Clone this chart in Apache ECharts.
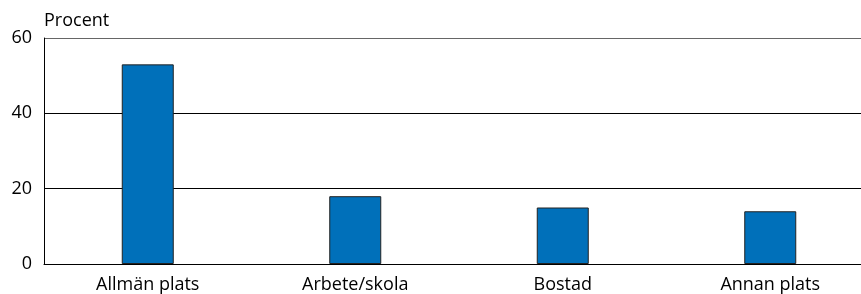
<!DOCTYPE html>
<html>
<head>
<meta charset="utf-8">
<script src="https://cdn.jsdelivr.net/npm/echarts@6/dist/echarts.min.js"></script>
<style>
  html, body { margin: 0; padding: 0; background: #fff; }
  #chart { width: 861px; height: 294px; }
</style>
</head>
<body>
<div id="chart"></div>
<script>
const categories = ['Allmän plats', 'Arbete/skola', 'Bostad', 'Annan plats']
const values = [53, 18, 15, 14]
const yTicks = [0, 20, 40, 60]

var chartDom = document.getElementById('chart')
var myChart = echarts.init(chartDom)
var font = 'Open Sans'

var option = {
  animation: false,
  grid: { left: 44, right: -13, top: 38, bottom: 30, outerBoundsMode: 'none', containLabel: false },
  xAxis: {
    type: 'category',
    data: categories,
    axisLine: { show: true, lineStyle: { color: '#000', width: 1 } },
    axisTick: { show: false },
    axisLabel: { color: '#000', fontFamily: font, fontSize: 18, margin: 12 }
  },
  yAxis: {
    type: 'value',
    min: yTicks[0],
    max: yTicks[yTicks.length - 1],
    interval: 20,
    name: 'Procent',
    nameLocation: 'end',
    nameGap: 8,
    nameTextStyle: { color: '#000', fontFamily: font, fontSize: 18, align: 'left', padding: [0, 0, 0, 0] },
    axisLine: { show: true, lineStyle: { color: '#000', width: 1 } },
    axisTick: { show: false },
    axisLabel: { color: '#000', fontFamily: font, fontSize: 18, margin: 12 },
    splitLine: {
      show: true,
      lineStyle: { color: ['#000', '#000', '#000', '#666'], width: 1 }
    }
  },
  series: [
    {
      type: 'bar',
      data: values,
      barWidth: 52,
      itemStyle: { color: '#0070BA', borderColor: '#222', borderWidth: 1 }
    }
  ]
}

option && myChart.setOption(option)
</script>
</body>
</html>
